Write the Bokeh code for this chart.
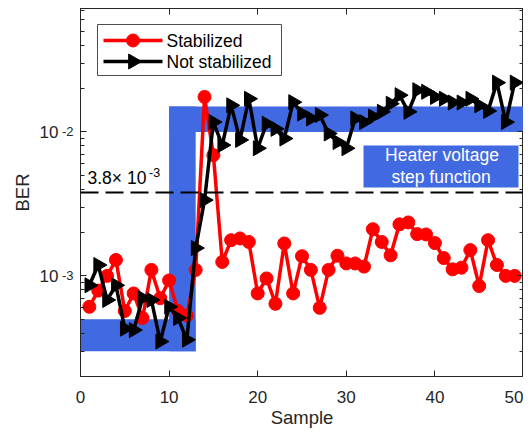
import math
import numpy as np
from bokeh.plotting import figure
from bokeh.models import LogAxis, LinearAxis, FixedTicker, Span, Label
from bokeh.embed import file_html
from bokeh.resources import INLINE

# ---------------- data ----------------
samples = list(range(1, 50))
ber_stabilized = [6.1e-4, 7.9e-4, 1.0e-3, 1.29e-3, 5.7e-4, 7.55e-4, 5.1e-4, 1.1e-3, 7.0e-4, 9.3e-4,
                  5.7e-4, 5.3e-4, 1.1e-3, 1.75e-2, 6.9e-3, 1.25e-3, 1.77e-3, 1.82e-3, 1.72e-3, 7.55e-4,
                  9.6e-4, 6.4e-4, 1.68e-3, 7.55e-4, 1.37e-3, 1.1e-3, 6.0e-4, 1.1e-3, 1.38e-3, 1.22e-3,
                  1.22e-3, 1.16e-3, 2.11e-3, 1.72e-3, 1.39e-3, 2.28e-3, 2.35e-3, 1.95e-3, 1.94e-3, 1.69e-3,
                  1.33e-3, 1.11e-3, 1.14e-3, 1.51e-3, 8.5e-4, 1.77e-3, 1.19e-3, 1.0e-3, 1.0e-3]
ber_not_stabilized = [8.6e-4, 1.19e-3, 6.8e-4, 8.6e-4, 4.3e-4, 4.2e-4, 7.0e-4, 6.8e-4, 3.5e-4, 6.1e-4,
                      5.1e-4, 3.6e-4, 1.56e-3, 3.36e-3, 1.17e-2, 8.1e-3, 1.53e-2, 8.8e-3, 1.7e-2, 7.7e-3,
                      1.14e-2, 1.05e-2, 9.0e-3, 1.61e-2, 1.34e-2, 1.24e-2, 1.31e-2, 9.75e-3, 8.5e-3, 7.7e-3,
                      1.24e-2, 1.17e-2, 1.28e-2, 1.38e-2, 1.57e-2, 1.8e-2, 1.38e-2, 1.95e-2, 1.9e-2, 1.75e-2,
                      1.7e-2, 1.6e-2, 1.6e-2, 1.7e-2, 1.53e-2, 1.4e-2, 2.2e-2, 1.17e-2, 2.2e-2]
series_names = ["Stabilized", "Not stabilized"]
threshold = 3.8e-3
threshold_text = "3.8\u00d7 10"
threshold_exp = "-3"
step_x = [0, 10, 13, 50]          # start, rise begins, rise ends, end
step_low = [3e-4, 5e-4]           # low band (bottom, top)
step_high = [1e-2, 1.5e-2]        # high band (bottom, top)
box_lines = ["Heater voltage", "step function"]

x_ticks = [0, 10, 20, 30, 40, 50]
y_ticks = [1e-3, 1e-2]
y_tick_base = "10"
y_tick_exps = ["-3", "-2"]

# ---------------- layout / styles ----------------
FONT = "Liberation Sans"
AX = "#262626"
BLUE = "#4169E1"
X0, X1 = 0, 50
Y0, Y1 = 2.0e-4, 7.2e-2
FL, FT, FW, FH = 80, 8, 443, 368   # frame position on the page (px)

def px_x(px):
    return X0 + (px - FL) / FW * (X1 - X0)

def px_y(py):
    l0, l1 = math.log10(Y0), math.log10(Y1)
    return 10 ** (l1 - (py - FT) / FH * (l1 - l0))

p = figure(frame_width=FW, frame_height=FH, x_range=(X0, X1), y_range=(Y0, Y1),
           y_axis_type="log", output_backend="svg", toolbar_location=None,
           min_border_left=FL, min_border_right=0, min_border_top=FT, min_border_bottom=432 - FT - FH)
p.background_fill_color = "white"
p.border_fill_color = "white"
p.outline_line_color = AX
p.outline_line_width = 1
p.xgrid.visible = False
p.ygrid.visible = False

y_minor = [k * 10.0 ** e for e in (-4, -3, -2) for k in range(2, 10)]
y_ticker = FixedTicker(ticks=y_ticks, minor_ticks=y_minor)
y_ticker_major = FixedTicker(ticks=y_ticks, minor_ticks=[])
x_ticker = FixedTicker(ticks=x_ticks, minor_ticks=[])

def style_axis(ax, ticks, labels=True):
    ax.axis_line_color = AX
    ax.major_tick_line_color = AX
    ax.minor_tick_line_color = AX
    ax.major_tick_in = 6
    ax.major_tick_out = 0
    ax.minor_tick_in = 4
    ax.minor_tick_out = 0
    ax.major_label_text_font = FONT
    ax.major_label_text_color = AX
    ax.axis_label_text_font = FONT
    ax.axis_label_text_color = AX
    ax.axis_label_text_font_style = "normal"
    if not labels:
        ax.major_label_overrides = {t: " " for t in ticks}
        ax.major_label_text_font_size = "1px"
        ax.major_label_text_color = None
        ax.major_label_standoff = 0

xa = p.xaxis[0]
xa.ticker = x_ticker
style_axis(xa, x_ticks)
xa.axis_label = "Sample"
xa.major_label_text_font_size = "17px"
xa.axis_label_text_font_size = "18.5px"
xa.major_label_standoff = 14
xa.axis_label_standoff = 1

# inner left axis: ticks + exponents of the tick labels
ya = p.yaxis[0]
ya.ticker = y_ticker
style_axis(ya, y_ticks)
ya.major_label_overrides = {t: e for t, e in zip(y_ticks, y_tick_exps)}
ya.major_label_text_font_size = "13px"
ya.major_label_text_baseline = "alphabetic"
ya.major_label_standoff = 7

# outer left axis: mantissa "10" and the axis title
ya2 = LogAxis(ticker=y_ticker_major)
style_axis(ya2, y_ticks)
ya2.axis_line_color = None
ya2.major_tick_line_color = None
ya2.minor_tick_line_color = None
ya2.major_label_overrides = {t: y_tick_base for t in y_ticks}
ya2.major_label_text_font_size = "17px"
ya2.major_label_standoff = 0
ya2.axis_label = "BER"
ya2.axis_label_text_font_size = "18.5px"
ya2.axis_label_standoff = 4
p.add_layout(ya2, "left")

ra = LogAxis(ticker=y_ticker)
style_axis(ra, y_ticks, labels=False)
p.add_layout(ra, "right")
ta = LinearAxis(ticker=x_ticker)
style_axis(ta, x_ticks, labels=False)
p.add_layout(ta, "above")

# step-function band
p.quad(left=[step_x[0], step_x[1], step_x[1]],
       right=[step_x[2], step_x[2], step_x[3]],
       bottom=[step_low[0], step_low[0], step_high[0]],
       top=[step_low[1], step_high[1], step_high[1]],
       fill_color=BLUE, line_color=None)

# annotation box
p.quad(left=[px_x(363)], right=[px_x(518)], bottom=[px_y(187)], top=[px_y(145)],
       fill_color=BLUE, line_color=None)
p.add_layout(Label(x=px_x(441.5), y=px_y(154.5), text=box_lines[0], text_align="center",
                   text_baseline="middle", text_font=FONT, text_font_size="17.5px", text_color="white"))
p.add_layout(Label(x=px_x(440.5), y=px_y(176.5), text=box_lines[1], text_align="center",
                   text_baseline="middle", text_font=FONT, text_font_size="17.5px", text_color="white"))

# threshold
p.add_layout(Span(location=threshold, dimension="width", line_color="black", line_width=2, line_dash="18 7"))
p.add_layout(Label(x=px_x(87), y=px_y(177), text=threshold_text, text_align="left",
                   text_baseline="middle", text_font=FONT, text_font_size="17.5px", text_color="black"))
p.add_layout(Label(x=px_x(148.5), y=px_y(172), text=threshold_exp, text_align="left",
                   text_baseline="middle", text_font=FONT, text_font_size="12.5px", text_color="black"))

# series
p.line(samples, ber_stabilized, line_color="red", line_width=3.5)
p.scatter(samples, ber_stabilized, marker="circle", size=13, fill_color="red", line_color="red")
p.line(samples, ber_not_stabilized, line_color="black", line_width=3.5)
p.scatter(samples, ber_not_stabilized, marker="triangle", angle=-np.pi / 2, size=15,
          fill_color="black", line_color="black")

# legend (drawn by hand so its markers keep the plot's size)
p.quad(left=[px_x(97)], right=[px_x(281)], bottom=[px_y(75)], top=[px_y(24)],
       fill_color="white", line_color="#4d4d4d", line_width=1)
rows = [40, 61]
for name, row, col, mk, sz in zip(series_names, rows, ["red", "black"], ["circle", "triangle"], [13, 15]):
    yy = px_y(row)
    p.line([px_x(103), px_x(162)], [yy, yy], line_color=col, line_width=3.5)
    p.scatter([px_x(132.5)], [yy], marker=mk, size=sz, fill_color=col, line_color=col,
              angle=(-np.pi / 2 if mk == "triangle" else 0))
    p.add_layout(Label(x=px_x(166), y=yy, text=name, text_align="left", text_baseline="middle",
                       text_font=FONT, text_font_size="17.5px", text_color="black"))

open("out.html", "w").write(file_html(p, INLINE))
